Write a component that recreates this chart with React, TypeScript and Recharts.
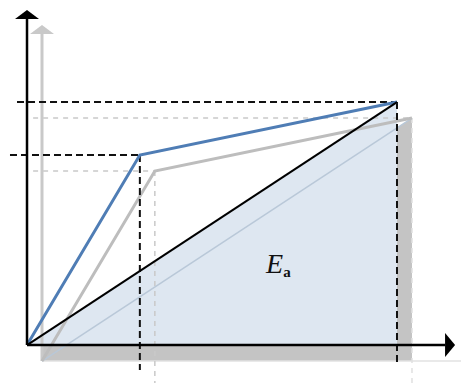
import React from "react";
import {
  ComposedChart,
  XAxis,
  YAxis,
  Line,
  Area,
  ReferenceLine,
  ReferenceDot,
  ReferenceArea,
} from "recharts";

// displacement / force, scaled so the ultimate point sits at (100, 100)
const curveDisp = [0, 30.5, 100];
const curveForce = [0, 78.2, 100];
const secantDisp = [0, 100];
const secantForce = [0, 100];

const yieldDisp = 30.5;
const yieldForce = 78.2;
const ultDisp = 100;
const ultForce = 100;

const bilinear = curveDisp.map((d, i) => ({ d, f: curveForce[i] }));
const secant = secantDisp.map((d, i) => ({ d, f: secantForce[i] }));

const W = 461;
const H = 383;
const X_DOMAIN = [-7.3, 117.3];
const Y_DOMAIN = [-15.6, 142];
// drop shadow sits ~15px right and ~16px down
const SHIFT_X = 4.05;
const SHIFT_Y = 6.58;

const arrowLine = (head: number, half: number) => (p: any) => {
  const { x1, y1, x2, y2, stroke, strokeWidth } = p;
  const len = Math.hypot(x2 - x1, y2 - y1) || 1;
  const ux = (x2 - x1) / len;
  const uy = (y2 - y1) / len;
  const bx = x2 - ux * head;
  const by = y2 - uy * head;
  const pts = [
    [x2, y2],
    [bx - uy * half, by + ux * half],
    [bx + uy * half, by - ux * half],
  ];
  return (
    <g>
      <line x1={x1} y1={y1} x2={bx} y2={by} stroke={stroke} strokeWidth={strokeWidth} />
      <polygon points={pts.map((q) => q.join(",")).join(" ")} fill={stroke} />
    </g>
  );
};

const EnergyLabel = (p: any) => (
  <text
    x={p.cx}
    y={p.cy}
    fontFamily="'Liberation Serif', serif"
    fontSize={28}
    fill="#111"
  >
    <tspan fontStyle="italic">E</tspan>
    <tspan fontSize={15} dy={4} fontWeight="bold">
      a
    </tspan>
  </text>
);

const BLACK_DASH = "7 4";
const GRAY_DASH = "5 5";
const GRAY = "#c9c9c9";

export default function App() {
  return (
    <div style={{ position: "absolute", left: 0, top: 0, background: "#fff" }}>
      <ComposedChart width={W} height={H} margin={{ top: 0, right: 0, bottom: 0, left: 0 }}>
        <XAxis xAxisId="main" type="number" dataKey="d" domain={X_DOMAIN} allowDataOverflow hide />
        <YAxis yAxisId="main" type="number" domain={Y_DOMAIN} allowDataOverflow hide />
        <XAxis
          xAxisId="shadow"
          type="number"
          dataKey="d"
          domain={[X_DOMAIN[0] - SHIFT_X, X_DOMAIN[1] - SHIFT_X]}
          allowDataOverflow
          hide
        />
        <YAxis
          yAxisId="shadow"
          type="number"
          domain={[Y_DOMAIN[0] + SHIFT_Y, Y_DOMAIN[1] + SHIFT_Y]}
          allowDataOverflow
          hide
        />

        {/* shadow layer */}
        <ReferenceLine
          xAxisId="shadow"
          yAxisId="shadow"
          segment={[{ x: 0, y: 0 }, { x: 125, y: 0 }]}
          stroke="#e2e2e2"
          strokeWidth={1.5}
          ifOverflow="visible"
        />
        <ReferenceLine
          xAxisId="shadow"
          yAxisId="shadow"
          segment={[{ x: ultDisp, y: ultForce }, { x: ultDisp, y: -9 }]}
          stroke="#e0e0e0"
          strokeWidth={1.5}
          strokeDasharray={GRAY_DASH}
          ifOverflow="visible"
        />
        <Area
          xAxisId="shadow"
          yAxisId="shadow"
          data={secant}
          dataKey="f"
          type="linear"
          fill="#c4c4c4"
          fillOpacity={1}
          stroke="none"
          isAnimationActive={false}
        />
        <ReferenceArea
          xAxisId="shadow"
          yAxisId="shadow"
          x1={0}
          x2={ultDisp}
          y1={0}
          y2={SHIFT_Y}
          fill="#c4c4c4"
          fillOpacity={1}
          stroke="none"
          ifOverflow="visible"
        />
        <ReferenceLine
          xAxisId="shadow"
          yAxisId="shadow"
          segment={[{ x: 0, y: 0 }, { x: 0, y: 138.3 }]}
          stroke={GRAY}
          strokeWidth={3}
          shape={arrowLine(9, 12)}
          ifOverflow="visible"
        />
        <ReferenceLine
          xAxisId="shadow"
          yAxisId="shadow"
          segment={[{ x: -2.4, y: ultForce }, { x: ultDisp, y: ultForce }]}
          stroke={GRAY}
          strokeWidth={1.5}
          strokeDasharray={GRAY_DASH}
          ifOverflow="visible"
        />
        <ReferenceLine
          xAxisId="shadow"
          yAxisId="shadow"
          segment={[{ x: -2.4, y: yieldForce }, { x: yieldDisp, y: yieldForce }]}
          stroke={GRAY}
          strokeWidth={1.5}
          strokeDasharray={GRAY_DASH}
          ifOverflow="visible"
        />
        <ReferenceLine
          xAxisId="shadow"
          yAxisId="shadow"
          segment={[{ x: yieldDisp, y: yieldForce }, { x: yieldDisp, y: -9 }]}
          stroke={GRAY}
          strokeWidth={1.5}
          strokeDasharray={GRAY_DASH}
          ifOverflow="visible"
        />

        {/* energy area under the secant */}
        <Area
          xAxisId="main"
          yAxisId="main"
          data={secant}
          dataKey="f"
          type="linear"
          fill="#dee7f1"
          fillOpacity={1}
          stroke="none"
          isAnimationActive={false}
        />
        <Line
          xAxisId="shadow"
          yAxisId="shadow"
          data={secant}
          dataKey="f"
          type="linear"
          stroke="#b9c8d8"
          strokeWidth={1.5}
          dot={false}
          isAnimationActive={false}
        />
        <Line
          xAxisId="shadow"
          yAxisId="shadow"
          data={bilinear}
          dataKey="f"
          type="linear"
          stroke="#bdbdbd"
          strokeWidth={3}
          dot={false}
          isAnimationActive={false}
        />

        {/* yield / ultimate guide lines */}
        <ReferenceLine
          xAxisId="main"
          yAxisId="main"
          segment={[{ x: -2.7, y: ultForce }, { x: ultDisp, y: ultForce }]}
          stroke="#111"
          strokeWidth={2}
          strokeDasharray={BLACK_DASH}
          ifOverflow="visible"
        />
        <ReferenceLine
          xAxisId="main"
          yAxisId="main"
          segment={[{ x: -4.6, y: yieldForce }, { x: yieldDisp, y: yieldForce }]}
          stroke="#111"
          strokeWidth={2}
          strokeDasharray={BLACK_DASH}
          ifOverflow="visible"
        />
        <ReferenceLine
          xAxisId="main"
          yAxisId="main"
          segment={[{ x: yieldDisp, y: yieldForce }, { x: yieldDisp, y: -10.3 }]}
          stroke="#111"
          strokeWidth={2}
          strokeDasharray={BLACK_DASH}
          ifOverflow="visible"
        />
        <ReferenceLine
          xAxisId="main"
          yAxisId="main"
          segment={[{ x: ultDisp, y: ultForce }, { x: ultDisp, y: -7 }]}
          stroke="#111"
          strokeWidth={2}
          strokeDasharray={BLACK_DASH}
          ifOverflow="visible"
        />

        <Line
          xAxisId="main"
          yAxisId="main"
          data={bilinear}
          dataKey="f"
          type="linear"
          stroke="#4f7db5"
          strokeWidth={3}
          dot={false}
          isAnimationActive={false}
        />
        <Line
          xAxisId="main"
          yAxisId="main"
          data={secant}
          dataKey="f"
          type="linear"
          stroke="#000"
          strokeWidth={2}
          dot={false}
          isAnimationActive={false}
        />

        {/* axes */}
        <ReferenceLine
          xAxisId="main"
          yAxisId="main"
          segment={[{ x: 0, y: 0 }, { x: 0, y: 137.9 }]}
          stroke="#000"
          strokeWidth={2.5}
          shape={arrowLine(9, 12)}
          ifOverflow="visible"
        />
        <ReferenceLine
          xAxisId="main"
          yAxisId="main"
          segment={[{ x: 0, y: 0 }, { x: 115.7, y: 0 }]}
          stroke="#000"
          strokeWidth={2.5}
          shape={arrowLine(10, 12)}
          ifOverflow="visible"
        />

        <ReferenceDot
          xAxisId="main"
          yAxisId="main"
          x={64.6}
          y={29.6}
          r={0}
          shape={EnergyLabel}
          ifOverflow="visible"
        />
      </ComposedChart>
    </div>
  );
}
